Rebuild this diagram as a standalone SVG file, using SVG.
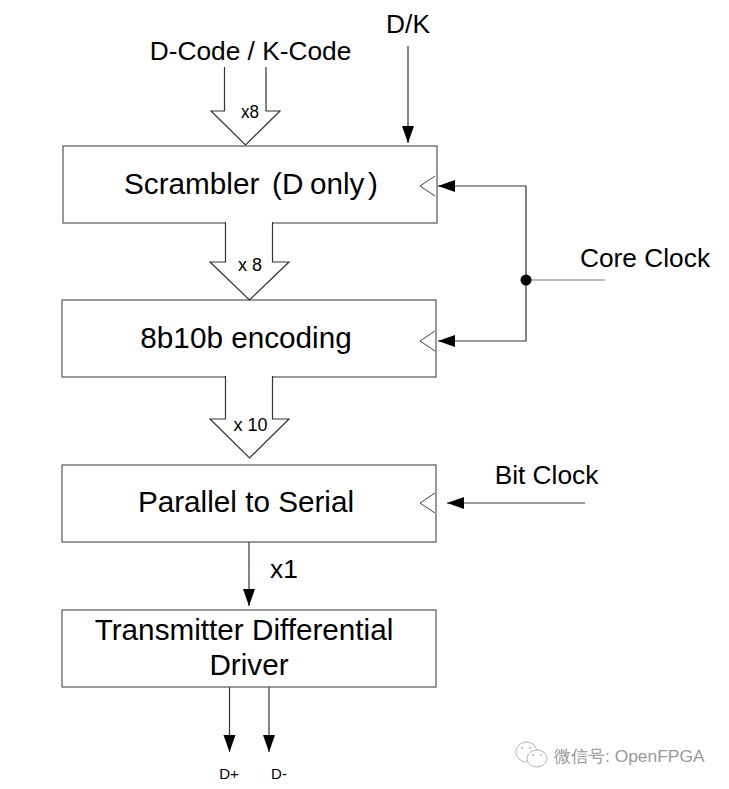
<svg xmlns="http://www.w3.org/2000/svg" width="729" height="789" viewBox="0 0 729 789">
<defs>
<marker id="arrow" markerUnits="userSpaceOnUse" markerWidth="12" markerHeight="18" refX="12" refY="6" orient="auto" viewBox="0 0 12 12" overflow="visible">
<path d="M-5 0 L12 6 L-5 12 Z" fill="#000"/>
</marker>
</defs>
<style>
text{font-family:"Liberation Sans",Arial,sans-serif;fill:#000}
.lbl{font-size:29.700px}
.top{font-size:26.300px}
.sm{font-size:18px}
.tiny{font-size:15px}
.box{fill:#fff;stroke:#555;stroke-width:1.2}
.line{fill:none;stroke:#333;stroke-width:1.2}
.bus{fill:#fff;stroke:#333;stroke-width:1.2}
.clk{fill:none;stroke:#444;stroke-width:1}
.wm{font-size:17.400px;fill:#999}
.ic{fill:#fff;stroke:#b5b5b5;stroke-width:1}
.dot{fill:#b5b5b5}
</style>
<rect width="729" height="789" fill="#fff"/>
<g id="connectors">
<line class="line" x1="408" y1="46" x2="408" y2="143" marker-end="url(#arrow)"/>
<path class="line" d="M526 186 H438" marker-end="url(#arrow)"/>
<path class="line" d="M526 186 V341 H438" marker-end="url(#arrow)"/>
<line x1="526" y1="280" x2="605" y2="280" stroke="#777" stroke-width="1.2"/>
<circle cx="526" cy="280" r="5.500" fill="#000"/>
<line class="line" x1="585" y1="503" x2="447" y2="503" marker-end="url(#arrow)"/>
<line class="line" x1="249" y1="542" x2="249" y2="606" marker-end="url(#arrow)"/>
<line class="line" x1="229.500" y1="687" x2="229.500" y2="752" marker-end="url(#arrow)"/>
<line class="line" x1="269" y1="687" x2="269" y2="752" marker-end="url(#arrow)"/>
</g>
<g id="node-scrambler">
<rect class="box" x="63" y="146" width="374" height="77"/>
<path class="clk" d="M435 176 L420 186 L435 196"/>
<text class="lbl" x="124" y="194">Scrambler<tspan x="272">(D</tspan><tspan x="310">only</tspan><tspan x="368">)</tspan></text>
</g>
<g id="node-encoding">
<rect class="box" x="62" y="300" width="374" height="77"/>
<path class="clk" d="M435 331 L420 341 L435 351"/>
<text class="lbl" x="246" y="348" text-anchor="middle">8b10b encoding</text>
</g>
<g id="node-serial">
<rect class="box" x="62" y="465" width="374" height="77"/>
<path class="clk" d="M435 493 L420 503 L435 513"/>
<text class="lbl" x="246" y="512" text-anchor="middle">Parallel to Serial</text>
</g>
<g id="node-driver">
<rect class="box" x="62" y="610" width="374" height="77"/>
<text class="lbl" x="244" y="640" text-anchor="middle">Transmitter Differential</text>
<text class="lbl" x="249" y="675" text-anchor="middle">Driver</text>
</g>
<g id="bus-x8-input">
<path class="bus" d="M224.500 67 V111 H211 L245.500 145 L280 111 H266 V67"/>
<text class="sm" x="250" y="118" text-anchor="middle" textLength="18" lengthAdjust="spacingAndGlyphs">x8</text>
</g>
<g id="bus-x8">
<path d="M225.500 222 V262 H210 L249.500 300 L289 262 H272.500 V222" class="bus"/>
<rect x="226.500" y="221" width="45" height="4" fill="#fff"/>
<text class="sm" x="250" y="271" text-anchor="middle">x 8</text>
</g>
<g id="bus-x10">
<path d="M225.500 376 V419 H210 L249.500 458 L289 419 H272.500 V376" class="bus"/>
<rect x="226.500" y="375" width="45" height="4" fill="#fff"/>
<text class="sm" x="250.500" y="431" text-anchor="middle">x 10</text>
</g>
<g id="labels">
<text class="top" x="250.500" y="60" text-anchor="middle">D-Code / K-Code</text>
<text class="top" x="408" y="33" text-anchor="middle">D/K</text>
<text class="top" x="645" y="266.500" text-anchor="middle">Core Clock</text>
<text class="top" x="546.500" y="484" text-anchor="middle">Bit Clock</text>
<text class="top" x="284" y="578" text-anchor="middle">x1</text>
<text class="tiny" x="229" y="779" text-anchor="middle">D+</text>
<text class="tiny" x="279" y="779" text-anchor="middle">D-</text>
</g>
<g id="watermark">
<ellipse class="ic" cx="526.500" cy="752" rx="10.500" ry="10"/>
<ellipse class="ic" cx="537" cy="758.500" rx="10" ry="8.500"/>
<circle class="dot" cx="522" cy="748" r="1"/>
<circle class="dot" cx="530" cy="748" r="1"/>
<circle class="dot" cx="533" cy="755" r="1"/>
<circle class="dot" cx="541" cy="755" r="1"/>
<text class="wm" x="554" y="762" font-family="'Liberation Sans','Noto Sans CJK SC',sans-serif">微信号: OpenFPGA</text>
</g>
</svg>
